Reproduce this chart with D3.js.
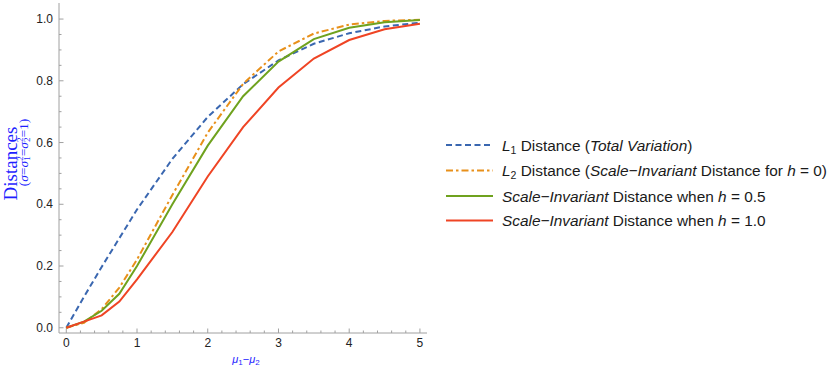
<!DOCTYPE html>
<html>
<head>
<meta charset="utf-8">
<script src="https://cdn.jsdelivr.net/npm/d3@7"></script>
<style>
    body { margin: 0; background: #fff; }
    svg { display: block; }
    text { font-family: Arial, "Liberation Sans", sans-serif; }
    text.serif { font-family: "Times New Roman", "Liberation Serif", serif; }
</style>
</head>
<body>
<svg id="chart" width="829" height="370"></svg>
<script>
"use strict";

// data
const diffs = [0, 0.25, 0.5, 0.75, 1, 1.5, 2, 2.5, 3, 3.5, 4, 4.5, 5];
const l1Distance = [0, 0.1, 0.197, 0.29, 0.383, 0.547, 0.683, 0.789, 0.866, 0.92, 0.954, 0.976, 0.988];
const l2Distance = [0, 0.016, 0.06, 0.13, 0.221, 0.43, 0.632, 0.79, 0.895, 0.953, 0.982, 0.994, 0.998];
const siHalf = [0, 0.02, 0.055, 0.11, 0.2, 0.4, 0.59, 0.75, 0.862, 0.935, 0.972, 0.99, 0.997];
const siOne = [0, 0.02, 0.04, 0.085, 0.157, 0.31, 0.49, 0.65, 0.778, 0.872, 0.932, 0.967, 0.985];
const xTicks = [0, 1, 2, 3, 4, 5];
const yTicks = [0, 0.2, 0.4, 0.6, 0.8, 1.0];



// series setting
const series = [
    { values: l1Distance, color: "#3a67b0", dash: "6,3.5" },
    { values: l2Distance, color: "#e8901a", dash: "7,3,2.5,3" },
    { values: siHalf, color: "#6fa21e", dash: null },
    { values: siOne, color: "#ef4424", dash: null }
];



let svg = d3.select("#chart");



// scales
let scaleX = d3.scaleLinear()
.domain([-0.103, 5.1])
.range([59, 427]);

let scaleY = d3.scaleLinear()
.domain([-0.017, 1.052])
.range([333, 3]);



// axes lines
const axisColor = "#a0a0a0";
svg.append("line")
.attr("x1", scaleX.range()[0]).attr("x2", scaleX.range()[0])
.attr("y1", scaleY.range()[0]).attr("y2", scaleY.range()[1])
.attr("stroke", axisColor).attr("stroke-width", 1);

svg.append("line")
.attr("x1", scaleX.range()[0]).attr("x2", scaleX.range()[1])
.attr("y1", scaleY.range()[0]).attr("y2", scaleY.range()[0])
.attr("stroke", axisColor).attr("stroke-width", 1);



// y ticks (major + minor, pointing inside)
let yMinor = d3.range(0, 21).map(i => i * 0.05).filter(v => Math.round(v * 100) % 20 != 0);
svg.append("g")
.selectAll("line")
.data(yMinor)
.join("line")
.attr("x1", scaleX.range()[0]).attr("x2", scaleX.range()[0] + 2.5)
.attr("y1", d => scaleY(d)).attr("y2", d => scaleY(d))
.attr("stroke", axisColor);

svg.append("g")
.selectAll("line")
.data(yTicks)
.join("line")
.attr("x1", scaleX.range()[0]).attr("x2", scaleX.range()[0] + 4.5)
.attr("y1", d => scaleY(d)).attr("y2", d => scaleY(d))
.attr("stroke", axisColor);

svg.append("g")
.selectAll("text")
.data(yTicks)
.join("text")
.attr("x", 53)
.attr("y", d => scaleY(d))
.attr("dy", "0.35em")
.attr("text-anchor", "end")
.attr("font-size", 12)
.attr("fill", "#222")
.text(d => d.toFixed(1));



// x ticks
let xMinor = d3.range(0, 26).map(i => i * 0.2).filter(v => Math.abs(v - Math.round(v)) > 0.01);
svg.append("g")
.selectAll("line")
.data(xMinor)
.join("line")
.attr("x1", d => scaleX(d)).attr("x2", d => scaleX(d))
.attr("y1", scaleY.range()[0]).attr("y2", scaleY.range()[0] - 2.5)
.attr("stroke", axisColor);

svg.append("g")
.selectAll("line")
.data(xTicks)
.join("line")
.attr("x1", d => scaleX(d)).attr("x2", d => scaleX(d))
.attr("y1", scaleY.range()[0]).attr("y2", scaleY.range()[0] - 4.5)
.attr("stroke", axisColor);

svg.append("g")
.selectAll("text")
.data(xTicks)
.join("text")
.attr("x", d => scaleX(d))
.attr("y", 347)
.attr("text-anchor", "middle")
.attr("font-size", 12)
.attr("fill", "#222")
.text(d => d);



// lines
let line = d3.line()
.x((d, i) => scaleX(diffs[i]))
.y(d => scaleY(d));

svg.append("g")
.selectAll("path")
.data(series)
.join("path")
.attr("d", d => line(d.values))
.attr("fill", "none")
.attr("stroke", d => d.color)
.attr("stroke-width", 2)
.attr("stroke-dasharray", d => d.dash);



// axis labels
let yLabel = svg.append("g").attr("fill", "#1f1fff");
yLabel.append("text")
.attr("class", "serif")
.attr("transform", "translate(17, 163.5) rotate(-90)")
.attr("text-anchor", "middle")
.attr("font-size", 19)
.text("Distances");

let ySub = yLabel.append("text")
.attr("class", "serif")
.attr("transform", "translate(28, 152.5) rotate(-90)")
.attr("text-anchor", "middle")
.attr("font-size", 13.5);
ySub.append("tspan").text("(");
ySub.append("tspan").attr("font-style", "italic").text("σ");
ySub.append("tspan").text("=");
ySub.append("tspan").attr("font-style", "italic").text("σ");
ySub.append("tspan").attr("font-size", 9).attr("dy", 2).text("1");
ySub.append("tspan").attr("font-size", 9).attr("dy", -7).attr("dx", -4.5).text("2");
ySub.append("tspan").attr("dy", 5).text("=");
ySub.append("tspan").attr("font-style", "italic").text("σ");
ySub.append("tspan").attr("font-size", 9).attr("dy", 2).text("2");
ySub.append("tspan").attr("font-size", 9).attr("dy", -7).attr("dx", -4.5).text("2");
ySub.append("tspan").attr("dy", 5).text("=1)");

let xLabel = svg.append("text")
.attr("x", 246)
.attr("y", 363)
.attr("text-anchor", "middle")
.attr("font-size", 11)
.attr("fill", "#1f1fff");
xLabel.append("tspan").attr("font-style", "italic").text("μ");
xLabel.append("tspan").attr("font-size", 8).attr("dy", 2).text("1");
xLabel.append("tspan").attr("dy", -2).text("−");
xLabel.append("tspan").attr("font-style", "italic").text("μ");
xLabel.append("tspan").attr("font-size", 8).attr("dy", 2).text("2");



// legend
const legendRows = [
    [["L", "i"], ["1", "sub"], [" Distance (", ""], ["Total Variation", "i"], [")", ""]],
    [["L", "i"], ["2", "sub"], [" Distance (", ""], ["Scale−Invariant", "i"], [" Distance for ", ""], ["h", "i"], [" = 0)", ""]],
    [["Scale−Invariant", "i"], [" Distance when ", ""], ["h", "i"], [" = 0.5", ""]],
    [["Scale−Invariant", "i"], [" Distance when ", ""], ["h", "i"], [" = 1.0", ""]]
];
const legendY = [145, 170.5, 196, 220.5];

let legend = svg.append("g").attr("class", "legend");
series.forEach((s, i) => {
    let item = legend.append("g")
    .attr("transform", `translate(446, ${legendY[i]})`);

    item.append("line")
    .attr("x1", 0).attr("x2", 47)
    .attr("y1", 0).attr("y2", 0)
    .attr("stroke", s.color)
    .attr("stroke-width", 2)
    .attr("stroke-dasharray", s.dash);

    let t = item.append("text")
    .attr("x", 56)
    .attr("y", 5.5)
    .attr("font-size", 15.4)
    .attr("fill", "#1a1a1a");
    let shifted = false;
    legendRows[i].forEach(p => {
        let ts = t.append("tspan").text(p[0]);
        if (p[1] == "i") ts.attr("font-style", "italic");
        if (p[1] == "sub") {
            ts.attr("font-size", 10.5).attr("dy", 3);
            shifted = true;
        } else if (shifted) {
            ts.attr("dy", -3);
            shifted = false;
        }
    });
});
</script>
</body>
</html>
